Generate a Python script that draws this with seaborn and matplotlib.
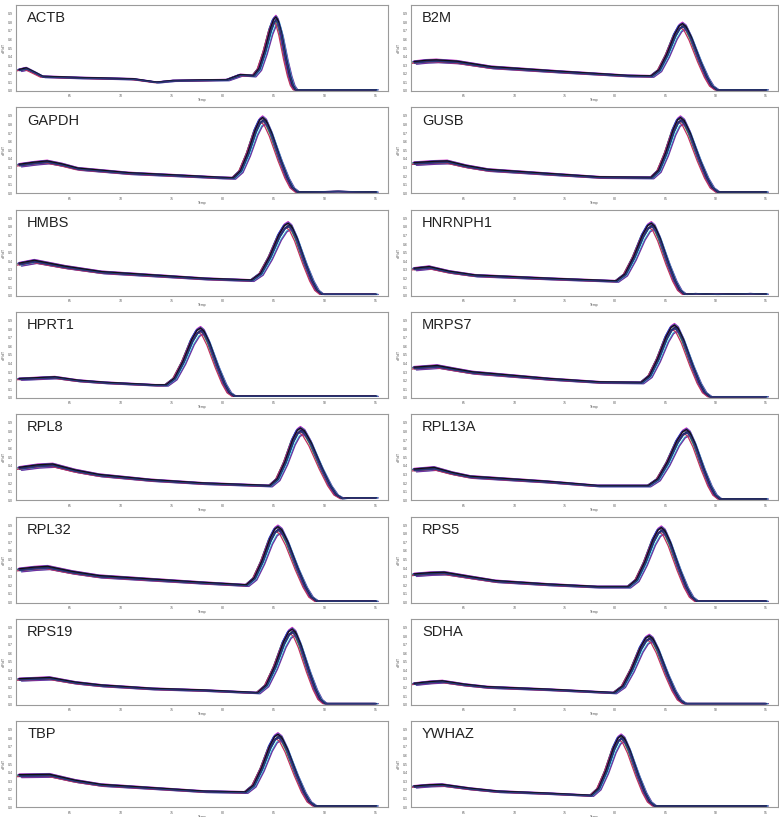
import matplotlib
matplotlib.use("Agg")
import matplotlib.pyplot as plt
import numpy as np
import pandas as pd
import seaborn as sns

# Melt-curve (negative first derivative) profiles per reference gene.
# Temperatures in degC, derivative in normalised units.
GENES = ["ACTB", "B2M", "GAPDH", "GUSB", "HMBS", "HNRNPH1", "HPRT1", "MRPS7",
         "RPL8", "RPL13A", "RPL32", "RPS5", "RPS19", "SDHA", "TBP", "YWHAZ"]

ACTB_T = [60, 60.7, 61.6, 62.3, 66.0, 67.9, 71.2, 73.5, 75.1, 77.7, 80.4, 81.7, 83.0,
          83.55, 84.1, 84.65, 84.98, 85.2, 85.39, 85.68, 86.15, 86.53, 86.82, 87.1, 95]
ACTB_Y = [0.255, 0.275, 0.22, 0.175, 0.16, 0.155, 0.145, 0.105, 0.125, 0.13, 0.135, 0.195, 0.185,
          0.27, 0.48, 0.74, 0.85, 0.88, 0.845, 0.71, 0.40, 0.19, 0.07, 0.015, 0.015]

B2M_T = [60, 61.2, 62.2, 64.25, 67.65, 74.45, 81.25, 83.6, 84.38, 85.15, 85.93, 86.39, 86.7,
         87.04, 87.55, 88.4, 89.08, 89.59, 90.1, 95]
B2M_Y = [0.35, 0.365, 0.37, 0.355, 0.29, 0.235, 0.185, 0.18, 0.254, 0.44, 0.676, 0.775, 0.80,
         0.769, 0.643, 0.368, 0.172, 0.062, 0.015, 0.015]

GAPDH_T = [60, 61.5, 62.75, 64.2, 65.75, 70.75, 75.75, 79.75, 81.0, 81.73, 82.45, 83.18, 83.61, 83.9,
           84.24, 84.75, 85.6, 86.28, 86.79, 87.3, 91.3, 95]
GAPDH_Y = [0.345, 0.37, 0.385, 0.35, 0.30, 0.245, 0.215, 0.19, 0.185, 0.271, 0.485, 0.757, 0.871, 0.90,
           0.865, 0.723, 0.413, 0.192, 0.068, 0.015, 0.022, 0.015]

GUSB_T = [60, 62.0, 63.3, 65.2, 67.35, 73.45, 78.5, 83.6, 84.33, 85.05, 85.78, 86.21, 86.5,
          86.87, 87.43, 88.35, 89.09, 89.65, 90.2, 95]
GUSB_Y = [0.365, 0.38, 0.385, 0.33, 0.285, 0.235, 0.195, 0.19, 0.275, 0.488, 0.758, 0.872, 0.90,
          0.865, 0.723, 0.413, 0.192, 0.068, 0.015, 0.015]

HMBS_T = [60, 61.5, 64.5, 68.1, 73.2, 78.3, 82.8, 83.7, 84.6, 85.5, 86.04, 86.4,
          86.73, 87.23, 88.05, 88.71, 89.21, 89.7, 95]
HMBS_Y = [0.385, 0.42, 0.35, 0.285, 0.245, 0.205, 0.185, 0.266, 0.469, 0.725, 0.833, 0.86,
          0.826, 0.691, 0.395, 0.184, 0.066, 0.015, 0.015]

HNRNPH1_T = [60, 61.5, 63.5, 66.05, 73.6, 80.1, 80.98, 81.85, 82.73, 83.25, 83.6,
             83.93, 84.43, 85.25, 85.91, 86.41, 86.9, 88.0, 90.0, 93.5, 95]
HNRNPH1_Y = [0.325, 0.345, 0.29, 0.245, 0.205, 0.175, 0.257, 0.463, 0.723, 0.833, 0.86,
             0.826, 0.691, 0.395, 0.184, 0.066, 0.015, 0.024, 0.015, 0.024, 0.018]

HPRT1_T = [60, 63.5, 65.8, 68.45, 73.4, 74.4, 75.25, 76.1, 76.95, 77.46, 77.8,
           78.13, 78.63, 79.45, 80.11, 80.61, 81.1, 95]
HPRT1_Y = [0.23, 0.25, 0.21, 0.185, 0.155, 0.155, 0.236, 0.439, 0.695, 0.803, 0.83,
           0.797, 0.667, 0.382, 0.178, 0.064, 0.02, 0.02]

MRPS7_T = [60, 62.3, 63.9, 65.8, 73.45, 78.5, 82.6, 83.43, 84.25, 85.08, 85.57, 85.9,
           86.25, 86.78, 87.65, 88.35, 88.88, 89.4, 95]
MRPS7_Y = [0.365, 0.385, 0.35, 0.31, 0.23, 0.19, 0.185, 0.267, 0.471, 0.729, 0.838, 0.865,
           0.831, 0.695, 0.398, 0.185, 0.066, 0.015, 0.015]

RPL8_T = [60, 61.8, 63.3, 65.5, 67.85, 72.9, 78.0, 84.6, 85.35, 86.1, 86.85, 87.3, 87.6,
          88.01, 88.63, 89.65, 90.47, 91.09, 91.7, 92.5, 95]
RPL8_Y = [0.39, 0.42, 0.43, 0.36, 0.306, 0.245, 0.205, 0.175, 0.257, 0.461, 0.721, 0.83, 0.857,
          0.823, 0.689, 0.394, 0.183, 0.066, 0.02, 0.03, 0.03]

RPL13A_T = [60, 62.0, 63.8, 65.6, 73.2, 78.25, 83.3, 84.25, 85.2, 86.15, 86.72, 87.1,
            87.43, 87.93, 88.75, 89.41, 89.91, 90.4, 95]
RPL13A_Y = [0.37, 0.39, 0.33, 0.285, 0.225, 0.175, 0.175, 0.255, 0.454, 0.707, 0.813, 0.84,
            0.807, 0.675, 0.386, 0.18, 0.065, 0.015, 0.015]

RPL32_T = [60, 61.5, 62.8, 65.2, 67.85, 72.9, 78.0, 82.3, 83.08, 83.85, 84.63, 85.09, 85.4,
           85.78, 86.35, 87.3, 88.06, 88.63, 89.2, 95]
RPL32_Y = [0.40, 0.42, 0.43, 0.37, 0.32, 0.28, 0.24, 0.21, 0.293, 0.50, 0.762, 0.872, 0.90,
           0.865, 0.723, 0.413, 0.192, 0.068, 0.015, 0.015]

RPS5_T = [60, 61.6, 63.0, 65.5, 68.1, 73.2, 78.25, 81.3, 82.13, 82.95, 83.78, 84.27, 84.6,
          84.95, 85.48, 86.35, 87.05, 87.58, 88.1, 95]
RPS5_Y = [0.34, 0.355, 0.36, 0.31, 0.26, 0.22, 0.19, 0.19, 0.274, 0.484, 0.75, 0.862, 0.89,
          0.855, 0.715, 0.409, 0.19, 0.068, 0.015, 0.015]

RPS19_T = [60, 63.0, 65.5, 68.05, 73.1, 78.15, 83.4, 84.25, 85.1, 85.95, 86.46, 86.8,
           87.12, 87.6, 88.4, 89.04, 89.52, 90.0, 95]
RPS19_Y = [0.31, 0.325, 0.27, 0.235, 0.195, 0.175, 0.145, 0.236, 0.462, 0.749, 0.87, 0.90,
           0.865, 0.723, 0.413, 0.192, 0.068, 0.015, 0.015]

SDHA_T = [60, 61.5, 62.8, 65.0, 67.3, 73.35, 79.9, 80.78, 81.65, 82.53, 83.05, 83.4,
          83.75, 84.28, 85.15, 85.85, 86.38, 86.9, 95]
SDHA_Y = [0.255, 0.275, 0.285, 0.245, 0.215, 0.185, 0.145, 0.226, 0.429, 0.685, 0.793, 0.82,
          0.788, 0.659, 0.377, 0.176, 0.063, 0.015, 0.015]

TBP_T = [60, 63.0, 65.5, 68.05, 73.1, 78.15, 82.2, 83.0, 83.8, 84.6, 85.08, 85.4,
         85.76, 86.3, 87.2, 87.92, 88.46, 89.0, 95]
TBP_Y = [0.385, 0.39, 0.32, 0.27, 0.23, 0.19, 0.18, 0.262, 0.468, 0.728, 0.838, 0.865,
         0.831, 0.695, 0.398, 0.185, 0.066, 0.015, 0.015]

YWHAZ_T = [60, 61.5, 62.8, 65.5, 68.3, 73.35, 77.6, 78.35, 79.1, 79.85, 80.3, 80.6,
           80.93, 81.43, 82.25, 82.91, 83.41, 83.9, 95]
YWHAZ_Y = [0.25, 0.265, 0.27, 0.225, 0.19, 0.165, 0.14, 0.225, 0.438, 0.708, 0.822, 0.85,
           0.817, 0.683, 0.391, 0.182, 0.065, 0.015, 0.015]

# Per-well relative amplitude and Tm offset of the replicate wells
WELL_SCALE = [0.90, 0.96, 0.93, 1.00, 0.89, 0.98, 0.95, 0.92, 0.99, 0.94, 0.97, 0.95, 0.98, 0.93]
WELL_SHIFT = [0.20, -0.15, 0.05, 0.00, 0.25, -0.10, 0.15, -0.20, 0.05, 0.00, -0.05, 0.10, 0.00, 0.05]
WELL_COLORS = ["#2fc9d8", "#30a040", "#e02020", "#d020c0", "#7030a0", "#1e3cd0", "#40c0e0",
               "#c03060", "#6060c0", "#303090", "#8020a0", "#202060", "#101010", "#283878"]

PROFILES = {
    "ACTB": (ACTB_T, ACTB_Y), "B2M": (B2M_T, B2M_Y), "GAPDH": (GAPDH_T, GAPDH_Y),
    "GUSB": (GUSB_T, GUSB_Y), "HMBS": (HMBS_T, HMBS_Y), "HNRNPH1": (HNRNPH1_T, HNRNPH1_Y),
    "HPRT1": (HPRT1_T, HPRT1_Y), "MRPS7": (MRPS7_T, MRPS7_Y), "RPL8": (RPL8_T, RPL8_Y),
    "RPL13A": (RPL13A_T, RPL13A_Y), "RPL32": (RPL32_T, RPL32_Y), "RPS5": (RPS5_T, RPS5_Y),
    "RPS19": (RPS19_T, RPS19_Y), "SDHA": (SDHA_T, SDHA_Y), "TBP": (TBP_T, TBP_Y),
    "YWHAZ": (YWHAZ_T, YWHAZ_Y),
}

sns.set_theme(style="white")
plt.rcParams["font.family"] = ["Liberation Sans", "DejaVu Sans"]

W, H = 779, 817
fig = plt.figure(figsize=(W / 100, H / 100), dpi=100)

col_left = [16, 411]
col_width = [372, 367]
row_top0, row_step, row_h = 5, 102.3, 86

for idx, gene in enumerate(GENES):
    row, col = divmod(idx, 2)
    top = row_top0 + row * row_step
    ax = fig.add_axes([col_left[col] / W, 1 - (top + row_h) / H,
                       col_width[col] / W, row_h / H])
    temps, vals = PROFILES[gene]
    recs = []
    for w, (s, d) in enumerate(zip(WELL_SCALE, WELL_SHIFT)):
        for t, v in zip(temps, vals):
            recs.append((f"W{w:02d}", t + d, v * s))
    df = pd.DataFrame(recs, columns=["well", "temp", "dfdt"])
    sns.lineplot(data=df, x="temp", y="dfdt", hue="well", palette=WELL_COLORS,
                 estimator=None, sort=False, linewidth=0.9, legend=False, ax=ax)

    ax.set_xlim(59.7, 96.2)
    ax.set_ylim(0, 1.0)
    ax.set_xticks([65, 70, 75, 80, 85, 90, 95])
    ax.set_yticks(np.arange(0.0, 1.0, 0.1))
    ax.set_yticklabels([f"{v:.1f}" for v in np.arange(0.0, 1.0, 0.1)])
    ax.tick_params(axis="both", labelsize=2.5, length=1.5, width=0.4,
                   colors="#555555", pad=1)
    ax.set_xlabel("Temp", fontsize=2.5, labelpad=0, color="#555555")
    ax.set_ylabel("-dF/dT", fontsize=2.5, labelpad=1, color="#555555")
    for sp in ax.spines.values():
        sp.set_color("#9a9a9a")
        sp.set_linewidth(0.8)
    ax.text(0.03, 0.80, gene, transform=ax.transAxes, fontsize=10.5,
            color="#222222", va="baseline", ha="left")

fig.savefig("out.png", dpi=100)
